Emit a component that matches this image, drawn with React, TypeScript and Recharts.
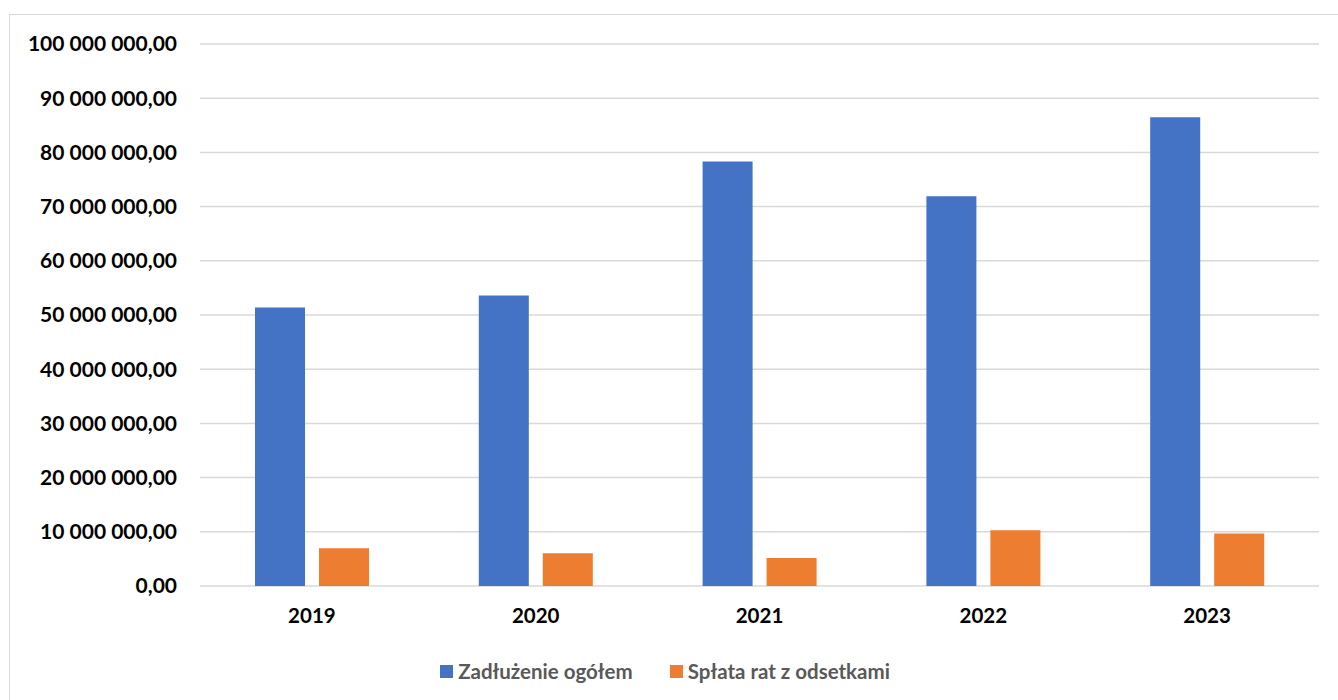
import React from 'react';
import { BarChart, Bar, XAxis, YAxis, CartesianGrid, Legend } from 'recharts';

const years = ['2019', '2020', '2021', '2022', '2023'];
const zadluzenie = [51400000, 53600000, 78300000, 71900000, 86500000];
const splata = [6950000, 6030000, 5170000, 10280000, 9670000];
const yTicks = [0, 10000000, 20000000, 30000000, 40000000, 50000000, 60000000, 70000000, 80000000, 90000000, 100000000];
const seriesNames = ['Zadłużenie ogółem', 'Spłata rat z odsetkami'];

const data = years.map((year, i) => ({
    year,
    zadluzenie: zadluzenie[i],
    splata: splata[i],
}));

const formatPl = (value: number) => {
    const int = Math.round(value).toString().replace(/\B(?=(\d{3})+(?!\d))/g, ' ');
    return `${int},00`;
};

const renderLegend = (props: any) => {
    const payload = [...(props.payload || [])].sort(
        (a: any, b: any) => seriesNames.indexOf(a.value) - seriesNames.indexOf(b.value)
    );
    return (
        <div style={{ display: 'flex', justifyContent: 'center', alignItems: 'center', gap: 37 }}>
            {payload.map((entry: any) => (
                <div key={entry.value} style={{ display: 'flex', alignItems: 'center' }}>
                    <span style={{ display: 'inline-block', width: 13, height: 13, background: entry.color, marginRight: 5 }} />
                    <span style={{ color: '#595959', fontWeight: 700, fontSize: 20.5 }}>{entry.value}</span>
                </div>
            ))}
        </div>
    );
};

export default function App() {
    return (
        <div style={{ position: 'fixed', left: 0, top: 0, width: 1338, height: 700, background: '#fff', fontFamily: 'Lato, sans-serif' }}>
            <div
                style={{
                    position: 'absolute',
                    left: 9,
                    top: 14,
                    width: 1340,
                    height: 700,
                    border: '1.5px solid #d9d9d9',
                    boxSizing: 'border-box',
                }}
            />
            <div style={{ position: 'absolute', left: 0, top: 0 }}>
                <BarChart
                    width={1338}
                    height={700}
                    data={data}
                    margin={{ top: 44, right: 19, left: 0, bottom: 74 }}
                    barGap={14}
                    barSize={50}
                >
                    <CartesianGrid vertical={false} stroke="#d9d9d9" strokeWidth={1.5} />
                    <XAxis
                        dataKey="year"
                        height={40}
                        axisLine={false}
                        tickLine={false}
                        tickSize={0}
                        tickMargin={22}
                        tick={{ fill: '#000', fontSize: 20.5, fontWeight: 700 }}
                    />
                    <YAxis
                        width={200}
                        domain={[0, 100000000]}
                        ticks={yTicks}
                        interval={0}
                        axisLine={false}
                        tickLine={false}
                        tickSize={0}
                        tickMargin={23}
                        tickFormatter={formatPl}
                        tick={{ fill: '#000', fontSize: 21, fontWeight: 700 }}
                    />
                    <Legend
                        layout="horizontal"
                        verticalAlign="middle"
                        itemSorter={null}
                        content={renderLegend}
                        wrapperStyle={{ top: 659, left: 0, width: 1330 }}
                    />
                    <Bar dataKey="zadluzenie" name={seriesNames[0]} fill="#4472C4" isAnimationActive={false} />
                    <Bar dataKey="splata" name={seriesNames[1]} fill="#ED7D31" isAnimationActive={false} />
                </BarChart>
            </div>
        </div>
    );
}
